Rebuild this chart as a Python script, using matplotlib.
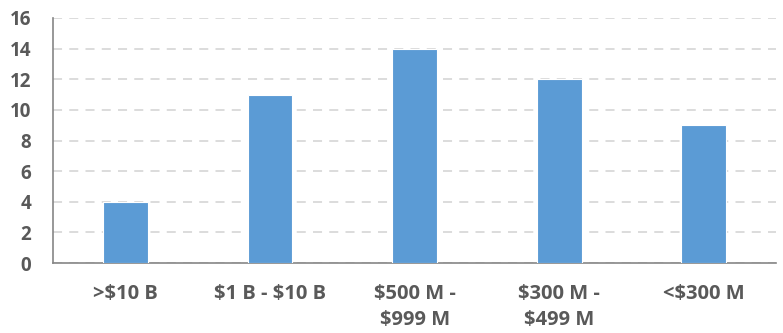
import matplotlib
matplotlib.use("Agg")
import matplotlib.pyplot as plt

plt.rcParams["text.parse_math"] = False

categories = [">$10 B", "$1 B - $10 B", "$500 M -\n$999 M", "$300 M -\n$499 M", "<$300 M"]
counts = [4, 11, 14, 12, 9]
y_ticks = [0, 2, 4, 6, 8, 10, 12, 14, 16]

fig = plt.figure(figsize=(7.83, 3.33), dpi=100)
ax = fig.add_axes([0.068, 0.21, 0.923, 0.736])

x = range(len(categories))
ax.bar(x, counts, width=0.31, color="#5B9BD5", edgecolor="white", linewidth=0.8, zorder=3)

ax.set_xlim(-0.5, len(categories) - 0.5)
ax.set_ylim(0, 16)
ax.set_yticks(y_ticks)
ax.set_xticks(list(x))
ax.set_xticklabels(categories, linespacing=1.4)

text_color = "#595959"
for lbl in ax.get_xticklabels():
    lbl.set_fontfamily("Open Sans")
    lbl.set_fontweight("bold")
    lbl.set_fontsize(14.5)
    lbl.set_color(text_color)
for lbl in ax.get_yticklabels():
    lbl.set_fontfamily("Open Sans")
    lbl.set_fontweight("bold")
    lbl.set_fontsize(13.5)
    lbl.set_color(text_color)

ax.tick_params(axis="both", length=0)
ax.tick_params(axis="x", pad=15)
ax.tick_params(axis="y", pad=16)

ax.yaxis.grid(True, linestyle=(0, (5, 4)), color="#D9D9D9", linewidth=1.3, zorder=0)
ax.set_axisbelow(True)

for side in ["top", "right"]:
    ax.spines[side].set_visible(False)
ax.spines["left"].set_color("#868686")
ax.spines["bottom"].set_color("#868686")
ax.spines["left"].set_linewidth(1.2)
ax.spines["bottom"].set_linewidth(1.2)

plt.savefig("out.png", dpi=100)
